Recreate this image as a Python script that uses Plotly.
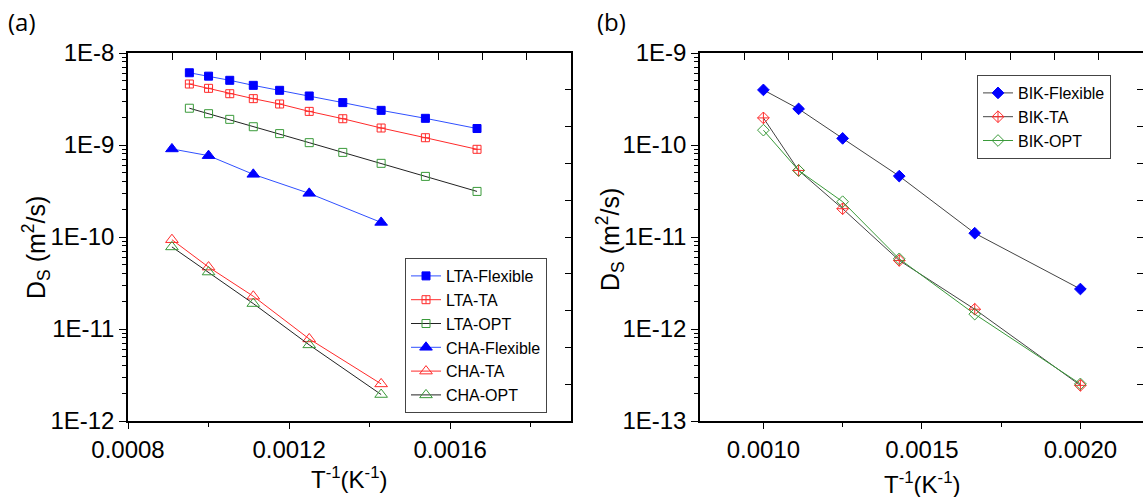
import plotly.graph_objects as go

# ---------------- data: panel (a) ----------------
lta_x = [1/1050, 1/1000, 1/950, 1/900, 1/850, 1/800, 1/750, 1/700, 1/650, 1/600]
lta_flex = [6.1e-9, 5.6e-9, 5.05e-9, 4.45e-9, 3.93e-9, 3.41e-9, 2.89e-9, 2.38e-9, 1.95e-9, 1.51e-9]
lta_ta = [4.6e-9, 4.13e-9, 3.61e-9, 3.19e-9, 2.79e-9, 2.32e-9, 1.93e-9, 1.53e-9, 1.2e-9, 8.98e-10]
lta_opt = [2.51e-9, 2.19e-9, 1.9e-9, 1.58e-9, 1.33e-9, 1.06e-9, 8.31e-10, 6.32e-10, 4.56e-10, 3.13e-10]

cha_x = [1/1100, 1/1000, 1/900, 1/800, 1/700]
cha_flex = [9.06e-10, 7.66e-10, 4.8e-10, 2.98e-10, 1.44e-10]
cha_ta = [9.35e-11, 4.71e-11, 2.27e-11, 7.8e-12, 2.53e-12]
cha_opt = [7.8e-11, 4.16e-11, 1.89e-11, 6.72e-12, 1.94e-12]

# ---------------- data: panel (b) ----------------
bik_x = [1/1000, 1/900, 1/800, 1/700, 1/600, 1/500]
bik_flex = [3.97e-10, 2.47e-10, 1.18e-10, 4.59e-11, 1.1e-11, 2.72e-12]
bik_ta = [1.97e-10, 5.29e-11, 2.03e-11, 5.56e-12, 1.64e-12, 2.44e-13]
bik_opt = [1.45e-10, 5.29e-11, 2.42e-11, 5.79e-12, 1.45e-12, 2.53e-13]

# tick labels
a_yticks = [1e-12, 1e-11, 1e-10, 1e-9, 1e-8]
a_ytext = ["1E-12", "1E-11", "1E-10", "1E-9", "1E-8"]
b_yticks = [1e-13, 1e-12, 1e-11, 1e-10, 1e-9]
b_ytext = ["1E-13", "1E-12", "1E-11", "1E-10", "1E-9"]

BLUE = "#0000FF"
RED = "#FF2A2A"
GREEN = "#3A9A3A"
BLACK = "#222222"

W, H = 1143, 497
def px_x(p):
    return p / W
def px_y(p):
    return 1 - p / H

fig = go.Figure()

def add(x, y, name, sym, mcol, lcol, size, xa, ya, leg):
    fig.add_trace(go.Scatter(
        x=x, y=y, name=name, mode="lines+markers",
        xaxis=xa, yaxis=ya, legend=leg,
        line=dict(color=lcol, width=1),
        marker=dict(symbol=sym, size=size, color=mcol,
                    line=dict(color=mcol, width=1)),
    ))

add(lta_x, lta_flex, "LTA-Flexible", "square", BLUE, "#3050FF", 8, "x", "y", "legend")
add(lta_x, lta_ta, "LTA-TA", "square-cross-open", RED, RED, 8, "x", "y", "legend")
add(lta_x, lta_opt, "LTA-OPT", "square-open", GREEN, BLACK, 8, "x", "y", "legend")
add(cha_x, cha_flex, "CHA-Flexible", "triangle-up", BLUE, "#3050FF", 11, "x", "y", "legend")
add(cha_x, cha_ta, "CHA-TA", "triangle-up-open", RED, RED, 11, "x", "y", "legend")
add(cha_x, cha_opt, "CHA-OPT", "triangle-up-open", GREEN, BLACK, 11, "x", "y", "legend")

add(bik_x, bik_flex, "BIK-Flexible", "diamond", BLUE, "#444444", 9, "x2", "y2", "legend2")
add(bik_x, bik_ta, "BIK-TA", "diamond-cross-open", RED, "#444444", 9, "x2", "y2", "legend2")
add(bik_x, bik_opt, "BIK-OPT", "diamond-open", GREEN, GREEN, 9, "x2", "y2", "legend2")

# empty traces so that the decorative top/right axes are drawn
fig.add_trace(go.Scatter(x=[], y=[], xaxis="x3", yaxis="y3", showlegend=False))
fig.add_trace(go.Scatter(x=[], y=[], xaxis="x4", yaxis="y4", showlegend=False))

FONT = "Arial"
ydom = [px_y(421), px_y(53)]
axcommon = dict(showgrid=False, zeroline=False, showline=True, linecolor="black",
                linewidth=1.5, tickcolor="black", tickwidth=1.2, automargin=False,
                tickfont=dict(family=FONT, size=24, color="black"))

def log_minor(e0, e1):
    vals = []
    for e in range(e0, e1):
        for k in range(2, 10):
            vals.append(k * 10 ** e)
    return vals

fig.update_layout(
    template="none",
    width=W, height=H, margin=dict(l=0, r=0, t=0, b=0, autoexpand=False),
    paper_bgcolor="white", plot_bgcolor="white",
    font=dict(family=FONT, color="black"),
    xaxis=dict(domain=[px_x(128), px_x(571)], range=[0.0008, 0.0019], anchor="y",
               tick0=0.0008, dtick=0.0004, tickformat=".4f", ticks="outside", ticklen=6,
               minor=dict(tick0=0.0008, dtick=0.0002, ticks="outside", ticklen=4,
                          tickcolor="black", tickwidth=1.2),
               **axcommon),
    yaxis=dict(domain=ydom, type="log", range=[-12, -8], anchor="x",
               tickvals=a_yticks, ticktext=a_ytext, ticks="outside", ticklen=7,
               minor=dict(tickvals=log_minor(-12, -8), ticks="outside", ticklen=4,
                          tickcolor="black", tickwidth=1),
               **axcommon),
    xaxis3=dict(overlaying="x", side="top", anchor="y", range=[0, 1],
                tickvals=[i / 10 for i in range(1, 10)], ticks="inside", ticklen=7,
                showticklabels=False, **axcommon),
    yaxis3=dict(overlaying="y", side="right", anchor="x", range=[0, 1],
                tickvals=[i / 10 for i in range(1, 10)], ticks="inside", ticklen=6,
                showticklabels=False, **axcommon),
    xaxis2=dict(domain=[px_x(700), 1.0], range=[0.0008, 0.0021975], anchor="y2",
                tick0=0.0010, dtick=0.0005, tickformat=".4f", ticks="outside", ticklen=6,
                minor=dict(tick0=0.0010, dtick=0.00025, ticks="outside", ticklen=4,
                           tickcolor="black", tickwidth=1.2),
                **axcommon),
    yaxis2=dict(domain=ydom, type="log", range=[-13, -9], anchor="x2",
                tickvals=b_yticks, ticktext=b_ytext, ticks="outside", ticklen=7,
                minor=dict(tickvals=log_minor(-13, -9), ticks="outside", ticklen=4,
                           tickcolor="black", tickwidth=1),
                **axcommon),
    xaxis4=dict(overlaying="x2", side="top", anchor="y2", range=[0, 1],
                tickvals=[i / 10 for i in range(1, 10)], ticks="inside", ticklen=7,
                showticklabels=False, **axcommon),
    yaxis4=dict(overlaying="y2", side="right", anchor="x2", range=[0, 1],
                tickvals=[i / 10 for i in range(1, 10)], ticks="inside", ticklen=6,
                showticklabels=False, **{**axcommon, "showline": False}),
    legend=dict(x=px_x(405), y=px_y(258), xanchor="left", yanchor="top",
                bgcolor="white", bordercolor="#444444", borderwidth=1,
                font=dict(family=FONT, size=16, color="black"),
                itemwidth=30, tracegroupgap=0),
    legend2=dict(x=px_x(977), y=px_y(75), xanchor="left", yanchor="top",
                 bgcolor="white", bordercolor="#444444", borderwidth=1,
                 font=dict(family=FONT, size=16, color="black"),
                 itemwidth=30, tracegroupgap=0),
)

ann = [
    dict(text="(a)", x=px_x(6), y=px_y(22), xanchor="left", yanchor="middle",
         font=dict(family="Open Sans", size=24)),
    dict(text="(b)", x=px_x(595), y=px_y(22), xanchor="left", yanchor="middle",
         font=dict(family="Open Sans", size=24)),
    dict(text="D<sub>S</sub> (m<sup>2</sup>/s)", x=px_x(36), y=px_y(248), textangle=-90,
         xanchor="center", yanchor="middle", font=dict(family=FONT, size=25)),
    dict(text="D<sub>S</sub> (m<sup>2</sup>/s)", x=px_x(610), y=px_y(240), textangle=-90,
         xanchor="center", yanchor="middle", font=dict(family=FONT, size=25)),
    dict(text="T<sup>-1</sup>(K<sup>-1</sup>)", x=px_x(349), y=px_y(478),
         xanchor="center", yanchor="middle", font=dict(family=FONT, size=24)),
    dict(text="T<sup>-1</sup>(K<sup>-1</sup>)", x=px_x(922), y=px_y(483),
         xanchor="center", yanchor="middle", font=dict(family=FONT, size=24)),
]
for a in ann:
    a.update(xref="paper", yref="paper", showarrow=False)
fig.update_layout(annotations=ann)

fig.write_html(
    "out.html",
    config={"displayModeBar": False},
    post_script="document.body.style.margin='0px';document.documentElement.style.overflow='hidden';",
)
